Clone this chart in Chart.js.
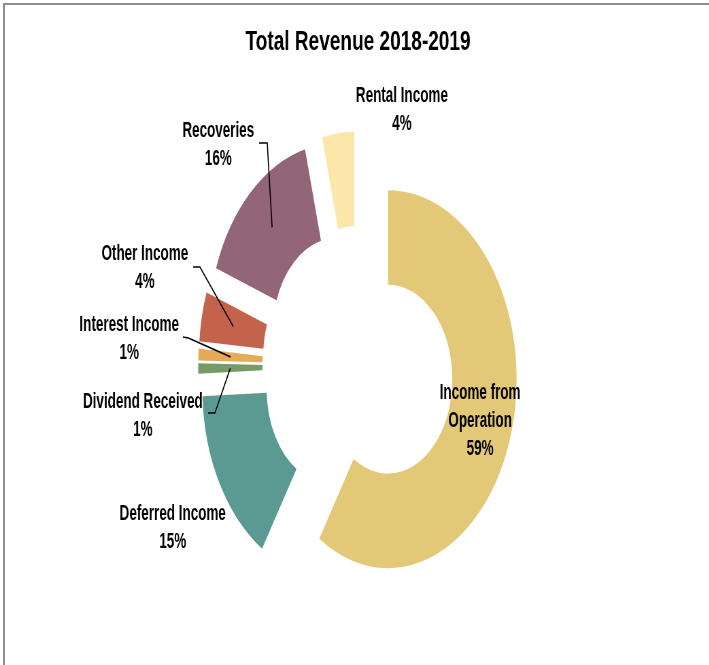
<!DOCTYPE html>
<html>
<head>
<meta charset="utf-8">
<title>Total Revenue 2018-2019</title>
<script src="https://cdn.jsdelivr.net/npm/chart.js@4.4.1/dist/chart.umd.min.js"></script>
<style>
  html, body { margin: 0; padding: 0; background: #fff; overflow: hidden; }
  #frame { position: absolute; left: 3px; top: 3px; width: 720px; height: 680px;
           border-top: 2px solid #8f8f8f; border-left: 2px solid #8f8f8f; }
  /* the chart is drawn wide and squeezed horizontally, so the ring comes out oval */
  #wrap { position: absolute; left: 0; top: 0; width: 1043px; height: 665px;
          transform: scaleX(0.68); transform-origin: 0 0; }
</style>
</head>
<body>
<div id="frame"></div>
<div id="wrap"><canvas id="revenueChart" width="1043" height="665"></canvas></div>
<script>
// slices clockwise from 12 o'clock
const categories = ['Income from Operation', 'Deferred Income', 'Dividend Received',
                    'Interest Income', 'Other Income', 'Recoveries', 'Rental Income'];
const shares = [59.0, 15.4, 0.9, 1.0, 4.2, 15.5, 4.0];
const sliceColors = ['#E2C877', '#5B9A93', '#789A67', '#E6AB5A', '#C4634B', '#926677', '#FDE6A9'];

// where each label sits (canvas px, before the squeeze); leader = start + elbow
const labelSpots = [
  { x: 706, y: 393, wrap: true, leader: null },
  { x: 254, y: 514, leader: null },
  { x: 210, y: 402, leader: [306, 413, 316, 413] },
  { x: 190, y: 325, leader: [269, 337, 277, 338] },
  { x: 213, y: 254, leader: [284, 267, 294, 267] },
  { x: 321, y: 131, leader: [381, 143, 393, 143] },
  { x: 591, y: 96, leader: null }
];

const EXPLODE = 46;   // how far every slice is pulled out
const LINE_H = 28;

// pull each slice out along its own middle angle
const explodePlugin = {
  id: 'explode',
  beforeDatasetDraw(chart, args) {
    const ctx = chart.ctx;
    args.meta.data.forEach(arc => {
      const mid = (arc.startAngle + arc.endAngle) / 2;
      ctx.save();
      ctx.translate(Math.cos(mid) * EXPLODE, Math.sin(mid) * EXPLODE);
      arc.draw(ctx);
      ctx.restore();
    });
    return false;
  }
};

// category name + percentage, with leader lines for the crowded ones
const labelPlugin = {
  id: 'sliceLabels',
  afterDatasetsDraw(chart) {
    const ctx = chart.ctx;
    const arcs = chart.getDatasetMeta(0).data;
    ctx.save();
    ctx.font = 'bold 22px "Liberation Sans", Arial, sans-serif';
    ctx.fillStyle = '#000';
    ctx.strokeStyle = '#000';
    ctx.lineWidth = 1.6;
    ctx.textAlign = 'center';
    ctx.textBaseline = 'middle';
    labelSpots.forEach((spot, i) => {
      const name = categories[i];
      let lines = [name];
      if (spot.wrap) {
        const k = name.lastIndexOf(' ');
        lines = [name.slice(0, k), name.slice(k + 1)];
      }
      lines.push(Math.round(shares[i]) + '%');
      lines.forEach((t, j) => {
        ctx.save();
        ctx.translate(spot.x, spot.y + j * LINE_H);
        ctx.scale(0.9, 1);
        ctx.fillText(t, 0, 0);
        ctx.restore();
      });
      if (spot.leader) {
        const arc = arcs[i];
        const mid = (arc.startAngle + arc.endAngle) / 2;
        const c = arc.getCenterPoint();
        ctx.beginPath();
        ctx.moveTo(spot.leader[0], spot.leader[1]);
        ctx.lineTo(spot.leader[2], spot.leader[3]);
        ctx.lineTo(c.x + Math.cos(mid) * EXPLODE, c.y + Math.sin(mid) * EXPLODE);
        ctx.stroke();
      }
    });
    ctx.restore();
  }
};

new Chart(document.getElementById('revenueChart'), {
  type: 'doughnut',
  data: {
    labels: categories,
    datasets: [{
      data: shares,
      backgroundColor: sliceColors,
      borderWidth: 0,
      offset: 0
    }]
  },
  options: {
    responsive: false,
    devicePixelRatio: 1,
    animation: false,
    events: [],
    radius: 189,
    cutout: '50%',
    layout: { padding: { left: 10, right: 0, top: 0, bottom: 1 } },
    plugins: {
      legend: { display: false },
      tooltip: { enabled: false },
      title: {
        display: true,
        text: 'Total Revenue 2018-2019',
        color: '#000',
        font: { family: '"Liberation Sans", Arial, sans-serif', size: 28, weight: 'bold' },
        padding: { top: 25, bottom: 10 }
      }
    }
  },
  plugins: [explodePlugin, labelPlugin]
});
</script>
</body>
</html>
